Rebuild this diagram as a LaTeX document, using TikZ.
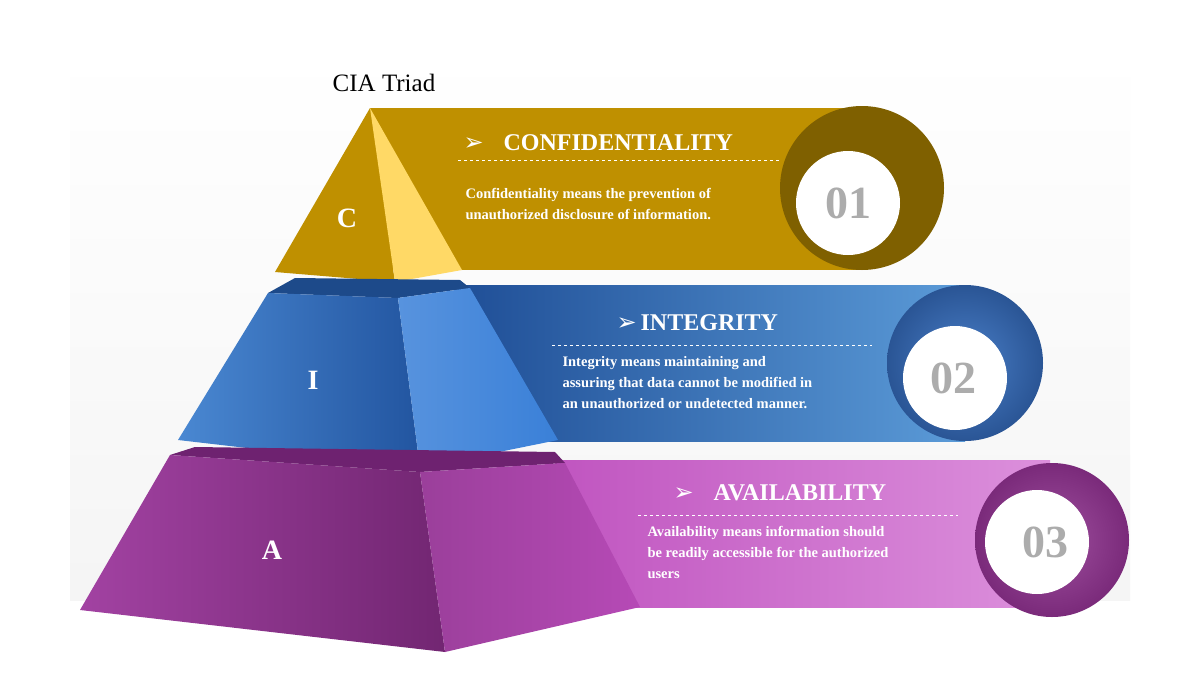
\documentclass[tikz,border=0pt]{standalone}
\usepackage{fontspec}
\setmainfont{Liberation Serif}
\newfontfamily\symf{DejaVu Sans}
\definecolor{gold}{HTML}{BF9000}
\definecolor{goldl}{HTML}{FFD966}
\definecolor{goldd}{HTML}{7F6000}
\definecolor{bdark}{HTML}{1F4E96}
\definecolor{blight}{HTML}{5B9BD8}
\definecolor{bring}{HTML}{2A5595}
\definecolor{bringl}{HTML}{4A7FC8}
\definecolor{btop}{HTML}{1D4A8A}
\definecolor{bleft}{HTML}{4A88D2}
\definecolor{bleftd}{HTML}{2255A0}
\definecolor{bright}{HTML}{3A80D8}
\definecolor{pband}{HTML}{C055C0}
\definecolor{pbandl}{HTML}{DC90DC}
\definecolor{pring}{HTML}{7A2A7A}
\definecolor{pringl}{HTML}{A050A0}
\definecolor{ptop}{HTML}{6E2270}
\definecolor{pleft}{HTML}{A242A2}
\definecolor{pleftd}{HTML}{722672}
\definecolor{pright}{HTML}{B64AB6}
\begin{document}
\begin{tikzpicture}[x=1pt,y=-1pt,
  head/.style={text=white,font=\bfseries\fontsize{24}{26}\selectfont,anchor=base west},
  body/.style={text=white,font=\bfseries\fontsize{14.5}{21}\selectfont,anchor=north west,align=left},
  num/.style={text=gray!65,font=\bfseries\fontsize{46}{46}\selectfont},
  letter/.style={text=white,font=\bfseries\fontsize{28}{28}\selectfont},
  dashln/.style={white,dashed,line width=0.7pt}]
\useasboundingbox (0,0) rectangle (1200,699);
\fill[white] (0,0) rectangle (1200,699);
\shade[top color=white,bottom color=gray!8] (70,50) rectangle (1130,600);
% bands
\fill[gold] (370,108) rectangle (860,270);
\shade[left color=bdark,right color=blight] (455,285) rectangle (965,441);
\shade[left color=pband,right color=pbandl] (555,460) rectangle (1050,607);
% rings
\fill[goldd] (862,188) circle (82);
\fill[white] (848,203) circle (52);
\shade[inner color=bringl,outer color=bring] (965,363) circle (78);
\fill[white] (955,378) circle (52);
\shade[inner color=pringl,outer color=pring] (1052,540) circle (77);
\fill[white] (1037,542) circle (52);
% pyramid C
\fill[gold] (370,108) -- (275,272) -- (395,282) -- cycle;
\fill[goldl] (370,108) -- (395,282) -- (462,270) -- cycle;
% pyramid I
\fill[btop] (268,293) -- (295,278) -- (460,280) -- (470,288) -- (398,298) -- cycle;
\shade[left color=bleft,right color=bleftd] (268,293) -- (398,298) -- (420,468) -- (178,440) -- cycle;
\shade[left color=bright!85!white,right color=bright] (398,298) -- (470,288) -- (558,440) -- (420,468) -- cycle;
% pyramid A
\fill[ptop] (170,455) -- (195,447) -- (555,452) -- (565,463) -- (420,472) -- cycle;
\shade[left color=pleft,right color=pleftd] (170,455) -- (420,472) -- (445,652) -- (80,610) -- cycle;
\shade[left color=pright!85!black,right color=pright] (420,472) -- (565,463) -- (640,607) -- (445,652) -- cycle;
% letters
\node[letter] (lc) at (347,218) {C};
\node[letter] (li) at (313,380) {I};
\node[letter] (la) at (272,550) {A};
\node[num] (n1) at (848,203) {01};
\node[num] (n2) at (953,378) {02};
\node[num] (n3) at (1045,542) {03};
\node[font=\fontsize{25}{26}\selectfont] (title) at (384,83) {CIA Triad};
% C text
\node[head] (h1) at (460,150) {{\symf ➢}\hspace{20pt}CONFIDENTIALITY};
\draw[dashln] (458,160) -- (780,160);
\node[body] (b1) at (462,185) {Confidentiality means the prevention of\\unauthorized disclosure of information.};
% I text
\node[head] (h2) at (613,330) {{\symf ➢}\,INTEGRITY};
\draw[dashln] (552,345) -- (872,345);
\node[body] (b2) at (559,353) {Integrity means maintaining and\\assuring that data cannot be modified in\\an unauthorized or undetected manner.};
% A text
\node[head] (h3) at (670,500) {{\symf ➢}\hspace{20pt}AVAILABILITY};
\draw[dashln] (638,515) -- (958,515);
\node[body] (b3) at (644,523) {Availability means information should\\be readily accessible for the authorized\\users};
\end{tikzpicture}
\end{document}
